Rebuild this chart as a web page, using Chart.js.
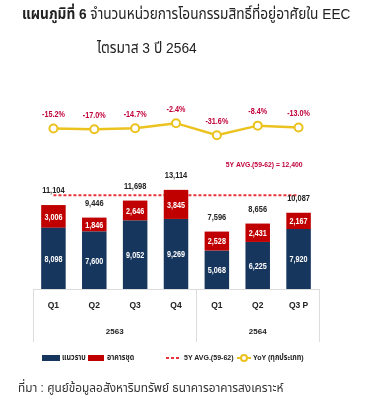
<!DOCTYPE html>
<html>
<head>
<meta charset="utf-8">
<script src="https://cdn.jsdelivr.net/npm/chart.js@4/dist/chart.umd.min.js"></script>
<style>
  html, body { margin: 0; padding: 0; background: #fff; }
  #wrap { position: relative; width: 383px; height: 404px; overflow: hidden; }
  canvas { position: absolute; left: 0; top: 0; }
  .txt { position: absolute; white-space: nowrap; font-family: "Liberation Sans", "Noto Sans Thai", sans-serif; color: #222; transform-origin: 0 0; }
  #t1 { left: 22px; top: 3px; font-size: 15px; transform: scaleX(0.91); }
  #t2 { left: 97px; top: 37px; font-size: 15px; transform: scaleX(0.92); }
  #src { left: 18px; top: 378px; font-size: 13px; color: #333; transform: scaleX(0.91); }
  #legend { position: absolute; left: 0; top: 351px; width: 383px; height: 14px; font-family: "Liberation Sans", "Noto Sans Thai", sans-serif; font-size: 8px; font-weight: bold; color: #222; }
  #legend span { position: absolute; top: 0; line-height: 13px; white-space: nowrap; transform-origin: 0 50%; transform: scaleX(0.88); }
  .sw { position: absolute; }
</style>
</head>
<body>
<div id="wrap">
  <canvas id="c" width="383" height="404"></canvas>
  <div class="txt" id="t1"><b>แผนภูมิที่ 6</b> จำนวนหน่วยการโอนกรรมสิทธิ์ที่อยู่อาศัยใน EEC</div>
  <div class="txt" id="t2">ไตรมาส 3 ปี 2564</div>
  <div id="legend"></div>
  <div class="txt" id="src">ที่มา : ศูนย์ข้อมูลอสังหาริมทรัพย์ ธนาคารอาคารสงเคราะห์</div>
</div>
<script>
// ---- data ----
const categories = ['Q1', 'Q2', 'Q3', 'Q4', 'Q1', 'Q2', 'Q3 P'];
const years = ['2563', '2564'];
const lowRise = [8098, 7600, 9052, 9269, 5068, 6225, 7920];
const condo = [3006, 1846, 2646, 3845, 2528, 2431, 2167];
const totals = [11104, 9446, 11698, 13114, 7596, 8656, 10087];
const yoy = [-15.2, -17.0, -14.7, -2.4, -31.6, -8.4, -13.0];
const avg5y = 12400;
const avgLabel = '5Y AVG.(59-62)';
const seriesNames = ['แนวราบ', 'อาคารชุด', '5Y AVG.(59-62)', 'YoY (ทุกประเภท)'];

const BLUE = '#17365d', RED = '#c00000', DASH = '#e8323a', YEL = '#ecc21f', LBL = '#c0003a';
const FONT = '"Liberation Sans", "Noto Sans Thai", sans-serif';

// legend (HTML)
const lg = document.getElementById('legend');
lg.innerHTML =
  '<div class="sw" style="left:42px;top:4px;width:18px;height:6px;background:' + BLUE + '"></div>' +
  '<span style="left:62px">' + seriesNames[0] + '</span>' +
  '<div class="sw" style="left:88px;top:4px;width:16px;height:6px;background:' + RED + '"></div>' +
  '<span style="left:107px">' + seriesNames[1] + '</span>' +
  '<div class="sw" style="left:166px;top:6px;width:3px;height:2px;background:' + DASH + '"></div>' +
  '<div class="sw" style="left:171px;top:6px;width:3px;height:2px;background:' + DASH + '"></div>' +
  '<div class="sw" style="left:176px;top:6px;width:3px;height:2px;background:' + DASH + '"></div>' +
  '<span style="left:184px">' + seriesNames[2] + '</span>' +
  '<div class="sw" style="left:237px;top:6px;width:14px;height:2px;background:' + YEL + '"></div>' +
  '<div class="sw" style="left:240px;top:3px;width:4px;height:4px;border:2px solid ' + YEL + ';border-radius:50%;background:#fff"></div>' +
  '<span style="left:253px">' + seriesNames[3] + '</span>';

const fmt = v => v.toLocaleString('en-US');

function txt(ctx, s, x, y, sx) {
  ctx.save();
  ctx.translate(x, y);
  ctx.scale(sx, 1);
  ctx.fillText(s, 0, 0);
  ctx.restore();
}

const labelPlugin = {
  id: 'labels',
  beforeDatasetsDraw(chart) {
    const ctx = chart.ctx, xs = chart.scales.x, ca = chart.chartArea;
    const top = ca.bottom, bot = ca.bottom + 53;
    ctx.save();
    ctx.strokeStyle = '#dcdcdc';
    ctx.lineWidth = 1;
    ctx.beginPath();
    ctx.moveTo(ca.left, top + 0.5); ctx.lineTo(ca.right, top + 0.5);
    const half = (xs.getPixelForValue(1) - xs.getPixelForValue(0)) / 2;
    [ca.left, xs.getPixelForValue(3) + half, ca.right].forEach(x => {
      ctx.moveTo(Math.round(x) + 0.5, top); ctx.lineTo(Math.round(x) + 0.5, bot);
    });
    ctx.stroke();
    ctx.restore();
  },
  afterDatasetsDraw(chart) {
    const ctx = chart.ctx;
    ctx.save();
    ctx.textAlign = 'center';
    ctx.textBaseline = 'middle';
    const m0 = chart.getDatasetMeta(0), m1 = chart.getDatasetMeta(1);
    const mAvg = chart.getDatasetMeta(2), mYoy = chart.getDatasetMeta(3);
    ctx.font = 'bold 8.5px ' + FONT;
    ctx.fillStyle = '#fff';
    m0.data.forEach((el, i) => txt(ctx, fmt(lowRise[i]), el.x, (el.y + el.base) / 2 + 1, 0.85));
    m1.data.forEach((el, i) => txt(ctx, fmt(condo[i]), el.x, (el.y + el.base) / 2 + 1, 0.85));
    ctx.font = 'bold 8.5px ' + FONT;
    ctx.fillStyle = '#222';
    m1.data.forEach((el, i) => txt(ctx, fmt(totals[i]), el.x, el.y - 14, 0.88));
    ctx.fillStyle = LBL;
    mYoy.data.forEach((el, i) => txt(ctx, yoy[i].toFixed(1) + '%', el.x, el.y - 14, 0.85));
    const last = mAvg.data[mAvg.data.length - 1];
    ctx.textAlign = 'right';
    ctx.font = 'bold 8px ' + FONT;
    txt(ctx, avgLabel + ' = ' + fmt(avg5y), last.x + 4, last.y - 30, 0.85);
    ctx.restore();
  }
};

new Chart(document.getElementById('c'), {
  data: {
    labels: categories,
    datasets: [
      { type: 'bar', label: seriesNames[0], data: lowRise, backgroundColor: BLUE, yAxisID: 'y', order: 2, barPercentage: 0.6, categoryPercentage: 1 },
      { type: 'bar', label: seriesNames[1], data: condo, backgroundColor: RED, yAxisID: 'y', order: 2, barPercentage: 0.6, categoryPercentage: 1 },
      { type: 'line', label: seriesNames[2], data: categories.map(() => avg5y), yAxisID: 'yAvg', borderColor: DASH, borderWidth: 2, borderDash: [3, 2], pointRadius: 0, fill: false, order: 3 },
      { type: 'line', label: seriesNames[3], data: yoy, yAxisID: 'y2', borderColor: YEL, borderWidth: 2.5, pointRadius: 4, pointBorderWidth: 2, pointBackgroundColor: '#fff', pointBorderColor: YEL, fill: false, tension: 0, order: 1 }
    ]
  },
  options: {
    responsive: false,
    animation: false,
    devicePixelRatio: 1,
    layout: { padding: { left: 33, right: 64, top: 100, bottom: 60 } },
    plugins: { legend: { display: false }, tooltip: { enabled: false } },
    scales: {
      x: {
        stacked: true,
        grid: { display: false },
        border: { display: false },
        ticks: { color: '#222', font: { family: FONT, size: 8.5, weight: 'bold' }, padding: 4, maxRotation: 0, autoSkip: false },
        afterFit: s => { s.height = 30; }
      },
      x2: {
        type: 'linear', position: 'bottom', weight: 1, min: 0, max: 7,
        grid: { display: false },
        border: { display: false },
        afterBuildTicks: s => { s.ticks = [{ value: 2 }, { value: 5.5 }]; },
        ticks: { color: '#222', font: { family: FONT, size: 8, weight: 'bold' }, padding: 0,
                 callback: (v) => v === 2 ? years[0] : (v === 5.5 ? years[1] : '') },
        afterFit: s => { s.height = 25; }
      },
      y: { stacked: true, display: false, min: 0, max: 25000 },
      yAvg: { display: false, min: 0, max: 25000 },
      y2: { display: false, min: -406, max: 54 }
    }
  },
  plugins: [labelPlugin]
});
</script>
</body>
</html>
